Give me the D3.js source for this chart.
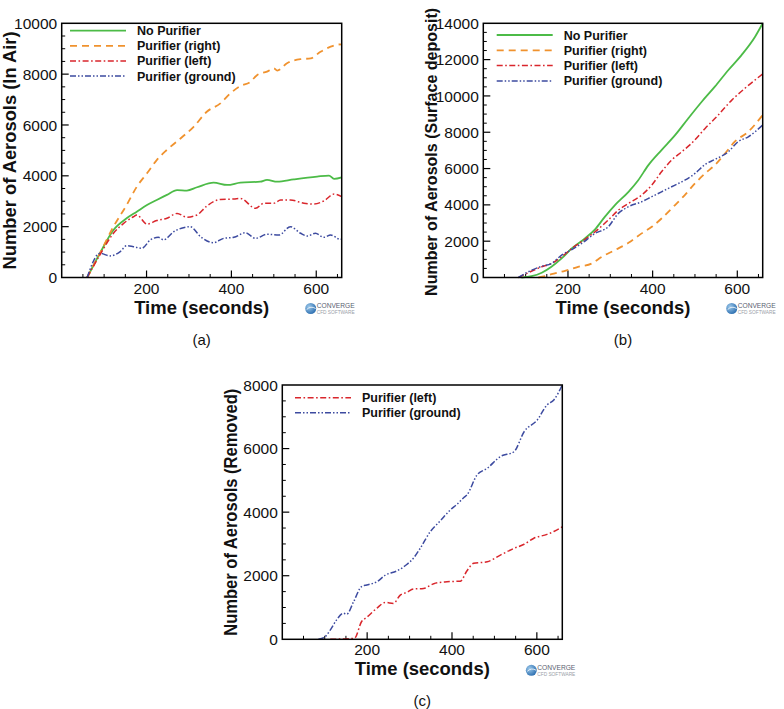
<!DOCTYPE html>
<html><head><meta charset="utf-8">
<script src="https://cdn.jsdelivr.net/npm/d3@7"></script>
<style>
body{margin:0;background:#fff}
text{font-family:"Liberation Sans",Arial,Helvetica,sans-serif}
</style>
</head><body>
<svg id="chart" width="784" height="709"></svg>
<script>
// ---------- data ----------
const timeDomain = [0, 660];
const timeTicks = [200, 400, 600];
const timeMinorTicks = [50,100,150,250,300,350,450,500,550,650];
const seriesNames = ["No Purifier", "Purifier (right)", "Purifier (left)", "Purifier (ground)"];

const airTicks = [0, 2000, 4000, 6000, 8000, 10000];
const depositTicks = [0, 2000, 4000, 6000, 8000, 10000, 12000, 14000];
const removedTicks = [0, 2000, 4000, 6000, 8000];

// (a) In Air
const airNoPurifier = [[60,0],[90,950],[122,1870],[153,2330],[177,2590],[201,2850],[224,3050],[248,3250],[272,3440],[295,3420],[319,3550],[358,3730],[390,3640],[421,3730],[468,3770],[484,3840],[508,3770],[547,3860],[602,3970],[630,4010],[642,3880],[660,3940]];
const airRight = [[60,0],[90,950],[122,2000],[153,2850],[177,3570],[201,4100],[224,4620],[248,5020],[280,5470],[311,5930],[342,6520],[374,6850],[398,7250],[421,7530],[445,7700],[461,7970],[484,8100],[500,8230],[508,8140],[531,8430],[563,8590],[587,8620],[610,8880],[634,9080],[657,9170],[660,9150]];
const airLeft = [[60,0],[90,890],[122,1740],[146,2130],[169,2390],[177,2460],[201,2100],[224,2240],[248,2330],[272,2520],[295,2370],[319,2460],[342,2810],[374,3070],[406,3090],[421,3110],[457,2720],[476,2920],[500,2920],[516,3050],[539,3050],[571,2920],[594,2890],[618,3010],[642,3280],[660,3180]];
const airGround = [[60,0],[90,950],[114,850],[138,1020],[153,1250],[169,1210],[189,1150],[209,1480],[228,1580],[240,1480],[264,1800],[287,1960],[303,2000],[327,1610],[358,1370],[382,1540],[406,1580],[433,1760],[457,1540],[484,1700],[512,1670],[539,2000],[563,1740],[579,1630],[598,1740],[618,1580],[634,1670],[657,1500],[660,1500]];

// (b) Surface deposit
const depNoPurifier = [[90,0],[114,70],[138,260],[161,590],[185,1050],[209,1600],[240,2150],[264,2650],[287,3340],[311,3990],[343,4720],[366,5360],[390,6190],[421,7020],[453,7840],[484,8760],[516,9680],[547,10510],[579,11430],[610,12250],[642,13260],[660,14000]];
const depRight = [[130,0],[146,70],[161,180],[193,370],[224,590],[256,770],[280,1140],[311,1510],[343,1910],[374,2430],[398,2790],[421,3250],[453,3990],[476,4540],[500,5180],[524,5730],[547,6190],[571,6830],[594,7480],[626,8030],[660,8950]];
const depLeft = [[83,0],[106,260],[138,590],[161,770],[185,1140],[209,1600],[232,1970],[264,2520],[295,3160],[319,3710],[343,4080],[374,4540],[398,5090],[421,5820],[445,6470],[469,6930],[492,7390],[524,8210],[555,8950],[587,9770],[618,10420],[660,11210]];
const depGround = [[83,0],[106,310],[138,620],[161,770],[185,1230],[209,1540],[232,1870],[264,2430],[295,2790],[319,3530],[343,3900],[374,4170],[398,4450],[421,4720],[453,5090],[476,5360],[500,5730],[524,6230],[547,6500],[579,6930],[602,7480],[626,7750],[660,8400]];

// (c) Removed
const remLeft = [[113,0],[170,30],[187,560],[199,690],[223,980],[243,1160],[262,1130],[278,1390],[294,1480],[309,1580],[333,1600],[357,1750],[388,1810],[420,1830],[435,2150],[451,2390],[483,2440],[514,2650],[546,2860],[570,2990],[593,3180],[624,3300],[640,3390],[660,3540]];
const remGround = [[85,0],[98,50],[113,290],[128,610],[144,820],[152,790],[168,1180],[187,1660],[199,1710],[223,1810],[243,2020],[270,2150],[294,2360],[309,2550],[325,2860],[349,3390],[372,3720],[396,4070],[412,4250],[428,4460],[435,4540],[459,5170],[483,5380],[514,5750],[546,5900],[570,6530],[601,6900],[624,7370],[640,7530],[660,8000]];

// ---------- styles ----------
const styles = {
  "No Purifier":       {color:"#4cbb47", dash:null,                 width:1.8},
  "Purifier (right)":  {color:"#f0922e", dash:"7,5",                width:1.8},
  "Purifier (left)":   {color:"#d9262c", dash:"6,2.5,1.6,2.5",      width:1.5},
  "Purifier (ground)": {color:"#3d4ba0", dash:"6,2,1.5,2,1.5,2",    width:1.5}
};

const svg = d3.select("#chart");
const defs = svg.append("defs");
const grad = defs.append("radialGradient").attr("id","logoGrad").attr("cx","35%").attr("cy","35%").attr("r","70%");
grad.append("stop").attr("offset","0%").attr("stop-color","#9cc8ea");
grad.append("stop").attr("offset","100%").attr("stop-color","#2d6fb0");

function drawPanel(p) {
  const g = svg.append("g");
  const x = d3.scaleLinear().domain(timeDomain).range([p.left, p.right]);
  const y = d3.scaleLinear().domain([0, p.ymax]).range([p.bottom, p.top]);

  const yMinor = d3.range(0, p.ymax + 1, 500).filter(v => !p.yTicks.includes(v));
  g.selectAll(".ymin").data(yMinor).join("line")
    .attr("x1", p.left).attr("x2", p.left + 3.5)
    .attr("y1", d => y(d)).attr("y2", d => y(d))
    .attr("stroke","#000").attr("stroke-width",1);
  g.selectAll(".ymaj").data(p.yTicks.filter(v => v>0 && v<p.ymax)).join("line")
    .attr("x1", p.left).attr("x2", p.left + 7)
    .attr("y1", d => y(d)).attr("y2", d => y(d))
    .attr("stroke","#000").attr("stroke-width",1.2);
  g.selectAll(".xmin").data(timeMinorTicks).join("line")
    .attr("x1", d => x(d)).attr("x2", d => x(d))
    .attr("y1", p.bottom).attr("y2", p.bottom - 3.5)
    .attr("stroke","#000").attr("stroke-width",1);
  g.selectAll(".xmaj").data(timeTicks).join("line")
    .attr("x1", d => x(d)).attr("x2", d => x(d))
    .attr("y1", p.bottom).attr("y2", p.bottom - 7)
    .attr("stroke","#000").attr("stroke-width",1.2);

  g.selectAll(".ylab").data(p.yTicks).join("text")
    .attr("x", p.left - 4.5).attr("y", d => y(d)).attr("dy","0.36em")
    .attr("text-anchor","end").attr("font-size",15.5).attr("fill","#111")
    .text(d => d);
  g.selectAll(".xlab").data(timeTicks).join("text")
    .attr("x", d => x(d)).attr("y", p.bottom + 16)
    .attr("text-anchor","middle").attr("font-size",15.5).attr("fill","#111")
    .text(d => d);

  const line = d3.line().x(d => x(d[0])).y(d => y(d[1])).curve(d3.curveMonotoneX);
  p.series.forEach(s => {
    const st = styles[s.name];
    g.append("path").datum(s.data)
      .attr("d", line).attr("fill","none")
      .attr("stroke", st.color).attr("stroke-width", st.width)
      .attr("stroke-dasharray", st.dash)
      .attr("stroke-linejoin","round");
  });

  g.append("rect").attr("x", p.left).attr("y", p.top)
    .attr("width", p.right - p.left).attr("height", p.bottom - p.top)
    .attr("fill","none").attr("stroke","#000").attr("stroke-width",1.5);

  p.series.forEach((s, i) => {
    const st = styles[s.name];
    const ly = p.legY + i * p.legStep;
    g.append("line").attr("x1", p.legX).attr("x2", p.legX + 56)
      .attr("y1", ly).attr("y2", ly)
      .attr("stroke", st.color).attr("stroke-width", st.width)
      .attr("stroke-dasharray", st.dash);
    g.append("text").attr("x", p.legX + 67).attr("y", ly).attr("dy","0.36em")
      .attr("font-size",12.5).attr("font-weight","bold").attr("fill","#111")
      .text(s.name);
  });

  const cx = (p.left + p.right) / 2, cy = (p.top + p.bottom) / 2;
  g.append("text").attr("x", cx).attr("y", p.bottom + 36)
    .attr("text-anchor","middle").attr("font-size",18.5).attr("font-weight","bold").attr("fill","#111")
    .attr("textLength",135).attr("lengthAdjust","spacingAndGlyphs")
    .text("Time (seconds)");
  g.append("text").attr("transform", `translate(${p.yTitleX},${cy + (p.yTitleShift||0)}) rotate(-90)`)
    .attr("text-anchor","middle").attr("font-size",p.yTitleSize||18.5).attr("font-weight","bold").attr("fill","#111")
    .attr("textLength",p.yTitleLen).attr("lengthAdjust","spacingAndGlyphs")
    .text(p.yTitle);

  g.append("text").attr("x", cx).attr("y", p.bottom + 67)
    .attr("text-anchor","middle").attr("font-size",15).attr("fill","#111")
    .text(p.caption);

  const lx = p.right - 31, lyy = p.bottom + 31;
  g.append("circle").attr("cx", lx).attr("cy", lyy).attr("r", 5.5).attr("fill","url(#logoGrad)");
  g.append("path").attr("d", `M${lx-4},${lyy+1} Q${lx},${lyy-3} ${lx+5},${lyy}`)
    .attr("fill","none").attr("stroke","#fff").attr("stroke-width",0.8);
  g.append("text").attr("x", lx + 6).attr("y", lyy - 0.5)
    .attr("font-size",8).attr("fill","#5a6270").attr("textLength",38).attr("lengthAdjust","spacingAndGlyphs")
    .text("CONVERGE");
  g.append("text").attr("x", lx + 6).attr("y", lyy + 5.5)
    .attr("font-size",4.6).attr("fill","#9aa0a8").attr("textLength",38).attr("lengthAdjust","spacingAndGlyphs")
    .text("CFD SOFTWARE");
}

drawPanel({
  left:61.7, right:341.7, top:23.3, bottom:277.5, ymax:10000, yTicks:airTicks,
  series:[{name:seriesNames[0],data:airNoPurifier},{name:seriesNames[1],data:airRight},
          {name:seriesNames[2],data:airLeft},{name:seriesNames[3],data:airGround}],
  legX:70, legY:30.7, legStep:15.1,
  yTitle:"Number of Aerosols (In Air)", yTitleX:15.5, yTitleLen:238, caption:"(a)"
});
drawPanel({
  left:483.3, right:762.7, top:23.3, bottom:277.5, ymax:14000, yTicks:depositTicks,
  series:[{name:seriesNames[0],data:depNoPurifier},{name:seriesNames[1],data:depRight},
          {name:seriesNames[2],data:depLeft},{name:seriesNames[3],data:depGround}],
  legX:496.7, legY:35, legStep:15.3,
  yTitle:"Number of Aerosols (Surface deposit)", yTitleX:437, yTitleLen:288, yTitleShift:1.5, yTitleSize:16.5,
  caption:"(b)"
});
drawPanel({
  left:282.3, right:562.3, top:385, bottom:639.3, ymax:8000, yTicks:removedTicks,
  series:[{name:seriesNames[2],data:remLeft},{name:seriesNames[3],data:remGround}],
  legX:295, legY:397.7, legStep:15,
  yTitle:"Number of Aerosols (Removed)", yTitleX:236.5, yTitleLen:247, caption:"(c)"
});
</script>
</body></html>
